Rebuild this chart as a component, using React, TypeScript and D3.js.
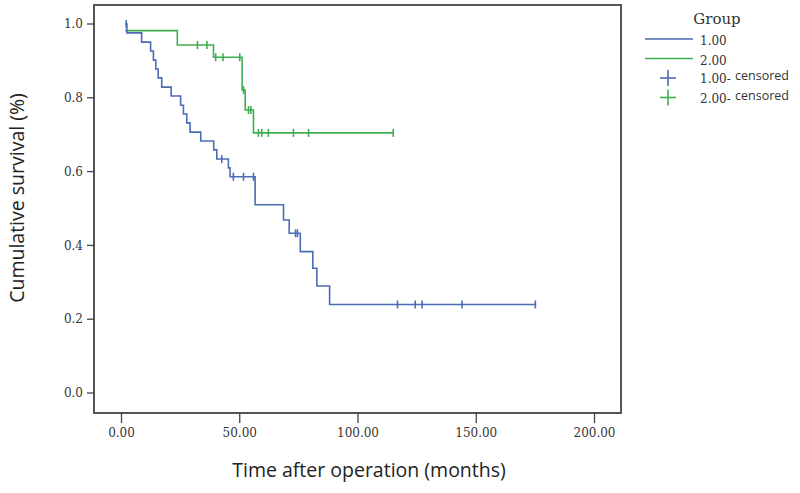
import React from "react";
import * as d3 from "d3";

// Group 1.00 (blue): event times and survival after each event
const blueTimes = [1.5, 2.3, 8.5, 12.3, 13.5, 14.5, 15.5, 17.0, 21.0, 25.0, 26.2, 27.6, 29.0, 33.5, 39.0, 40.3, 45.2, 45.9, 56.5, 68.5, 70.9, 75.6, 80.9, 82.6, 88.0];
const blueSurv = [1.0, 0.976, 0.951, 0.927, 0.902, 0.878, 0.854, 0.829, 0.805, 0.78, 0.756, 0.732, 0.707, 0.683, 0.659, 0.634, 0.61, 0.586, 0.51, 0.469, 0.433, 0.383, 0.338, 0.29, 0.24];
const blueEnd = 175.0;
const blueCensored = [2.0, 42.4, 47.3, 51.6, 55.8, 73.6, 74.4, 116.7, 124.2, 127.1, 144.0, 175.0];

// Group 2.00 (green)
const greenTimes = [1.5, 23.6, 38.9, 51.0, 52.3, 55.8];
const greenSurv = [0.982, 0.943, 0.91, 0.821, 0.767, 0.705];
const greenEnd = 114.9;
const greenCensored = [32.1, 36.1, 39.8, 42.9, 50.0, 51.6, 53.7, 54.7, 57.9, 59.3, 62.1, 72.7, 79.1, 114.9];

const xTicks = [0, 50, 100, 150, 200];
const yTicks = [0, 0.2, 0.4, 0.6, 0.8, 1.0];
const groupLabels = ["1.00", "2.00"];

const BLUE = "#4a6cb3";
const GREEN = "#3fae52";

const frame = { left: 94, right: 621, top: 5, bottom: 413 };
const x = d3.scaleLinear().domain([0, 200]).range([121.5, 594.5]);
const y = d3.scaleLinear().domain([0, 1]).range([393, 24]);

function levelAt(times: number[], surv: number[], t: number) {
  let v = surv[0];
  for (let i = 0; i < times.length; i++) if (times[i] <= t) v = surv[i];
  return v;
}

function stepPath(times: number[], surv: number[], end: number) {
  const pts: [number, number][] = times.map((t, i) => [t, surv[i]]);
  pts.push([end, surv[surv.length - 1]]);
  const line = d3
    .line<[number, number]>()
    .x((d) => x(d[0]))
    .y((d) => y(d[1]))
    .curve(d3.curveStepAfter);
  return line(pts) || "";
}

function Curve({ times, surv, end, censored, color }: any) {
  return (
    <g>
      <path d={stepPath(times, surv, end)} fill="none" stroke={color} strokeWidth={1.6} />
      {censored.map((t: number, i: number) => {
        const cy = y(levelAt(times, surv, t));
        return <line key={i} x1={x(t)} x2={x(t)} y1={cy - 4} y2={cy + 4} stroke={color} strokeWidth={1.6} />;
      })}
    </g>
  );
}

export default function App() {
  const serif = "'DejaVu Serif', serif";
  const sans = "'Open Sans', sans-serif";
  return (
    <div style={{ position: "fixed", left: 0, top: 0 }}>
      <svg width={800} height={493} style={{ display: "block", background: "#fff" }}>
        <rect
          x={frame.left}
          y={frame.top}
          width={frame.right - frame.left}
          height={frame.bottom - frame.top}
          fill="none"
          stroke="#555"
          strokeWidth={2}
        />
        {yTicks.map((v) => (
          <g key={v}>
            <line x1={87} x2={frame.left} y1={y(v)} y2={y(v)} stroke="#444" strokeWidth={1.3} />
            <text x={83} y={y(v)} dy="0.35em" textAnchor="end" fontFamily={serif} fontSize={12} fill="#333">
              {v.toFixed(1)}
            </text>
          </g>
        ))}
        {xTicks.map((v) => (
          <g key={v}>
            <line x1={x(v)} x2={x(v)} y1={frame.bottom} y2={frame.bottom + 10} stroke="#444" strokeWidth={1.3} />
            <text x={x(v)} y={437} textAnchor="middle" fontFamily={serif} fontSize={12} fill="#333">
              {v.toFixed(2)}
            </text>
          </g>
        ))}
        <text x={369} y={470} dy="0.35em" textAnchor="middle" fontFamily={sans} fontSize={19.5} fill="#222">
          Time after operation (months)
        </text>
        <text
          transform={`translate(17,198) rotate(-90)`}
          dy="0.35em"
          textAnchor="middle"
          fontFamily={sans}
          fontSize={19.5}
          fill="#222"
        >
          Cumulative survival (%)
        </text>

        <Curve times={greenTimes} surv={greenSurv} end={greenEnd} censored={greenCensored} color={GREEN} />
        <Curve times={blueTimes} surv={blueSurv} end={blueEnd} censored={blueCensored} color={BLUE} />

        {/* legend */}
        <text x={717} y={19} dy="0.35em" textAnchor="middle" fontFamily={serif} fontSize={15} fill="#333">
          Group
        </text>
        {groupLabels.map((g, i) => {
          const color = i === 0 ? BLUE : GREEN;
          const ly = 39 + i * 19.5;
          const cy = 78 + i * 19.5;
          return (
            <g key={g}>
              <line x1={645} x2={693} y1={ly} y2={ly} stroke={color} strokeWidth={1.6} />
              <text x={700} y={ly + 2} dy="0.35em" fontFamily={serif} fontSize={12} fill="#333">
                {g}
              </text>
              <line x1={660} x2={676} y1={cy} y2={cy} stroke={color} strokeWidth={1.6} />
              <line x1={668} x2={668} y1={cy - 8} y2={cy + 8} stroke={color} strokeWidth={1.6} />
              <text x={700} y={cy + 1} dy="0.35em" fontFamily={serif} fontSize={12} fill="#333">
                {g + "-"}
              </text>
              <text x={735} y={cy - 2} dy="0.35em" fontFamily={sans} fontSize={12.5} fill="#333">
                censored
              </text>
            </g>
          );
        })}
      </svg>
    </div>
  );
}
